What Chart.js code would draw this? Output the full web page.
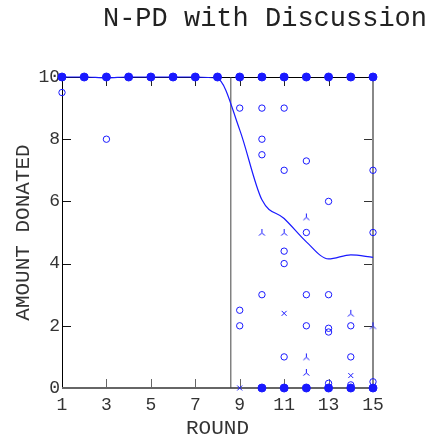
<!DOCTYPE html>
<html>
<head>
<meta charset="utf-8">
<script src="https://cdn.jsdelivr.net/npm/chart.js@4"></script>
<style>
  body { margin: 0; background: #fff; }
  #wrap { width: 436px; height: 441px; }
</style>
</head>
<body>
<div id="wrap"><canvas id="npd"></canvas></div>
<script>
// 데이터
const rounds = [1, 2, 3, 4, 5, 6, 7, 8, 9, 10, 11, 12, 13, 14, 15];
const meanDonation = [10, 10, 9.97, 10, 10, 10, 10, 9.95, 8.3, 6.05, 5.45, 4.7, 4.15, 4.28, 4.2];

// 전액 기부 (채워진 점)
const fullRounds = [1, 2, 3, 4, 5, 6, 7, 8, 9, 10, 11, 12, 13, 14, 15, 10, 11, 12, 13, 14, 15];
const fullAmounts = [10, 10, 10, 10, 10, 10, 10, 10, 10, 10, 10, 10, 10, 10, 10, 0, 0, 0, 0, 0, 0];

// 빈 원
const circlePoints = [
  [1, 9.5], [3, 8], [9, 9], [10, 9], [11, 9], [10, 8], [10, 7.5], [12, 7.3], [11, 7], [15, 7],
  [13, 6], [12, 5], [15, 5], [11, 4.4], [11, 4], [10, 3], [12, 3], [13, 3], [9, 2.5], [9, 2],
  [12, 2], [13, 1.92], [13, 1.8], [14, 2], [11, 1], [14, 1], [13, 0.15], [14, 0.1], [15, 0.2]
];
// 삼각 별 모양
const triPoints = [[10, 5], [11, 5], [12, 5.5], [14, 2.4], [15, 2], [12, 1], [12, 0.5]];
// x 표시
const crossPoints = [[9, 0], [11, 2.4], [14, 0.4]];

const discussionRound = 8.6;
const xTicks = [1, 3, 5, 7, 9, 11, 13, 15];
const yTicks = [0, 2, 4, 6, 8, 10];

const BLUE = 'rgb(25, 25, 255)';
const FONT = "'Liberation Mono', 'DejaVu Sans Mono', monospace";

// 뒤집힌 Y 모양 마커
function makeTriMarker() {
  const c = document.createElement('canvas');
  c.width = 9; c.height = 9;
  const g = c.getContext('2d');
  g.strokeStyle = BLUE;
  g.lineWidth = 1;
  g.beginPath();
  g.moveTo(4.5, 1); g.lineTo(4.5, 5);
  g.moveTo(4.5, 5); g.lineTo(1.5, 7.5);
  g.moveTo(4.5, 5); g.lineTo(7.5, 7.5);
  g.stroke();
  return c;
}

const toXY = arr => arr.map(p => ({ x: p[0], y: p[1] }));

// 테두리와 안쪽 눈금 그리기
const frameTicks = {
  id: 'frameTicks',
  beforeDatasetsDraw(chart) {
    const { ctx, chartArea: a, scales } = chart;
    const x = scales.x, y = scales.y;
    const tl = 9;
    ctx.save();
    ctx.lineWidth = 1;
    // 아래 눈금
    ctx.strokeStyle = '#666';
    xTicks.forEach(v => {
      const px = Math.round(x.getPixelForValue(v)) + 0.5;
      ctx.beginPath(); ctx.moveTo(px, a.bottom); ctx.lineTo(px, a.bottom - tl); ctx.stroke();
    });
    // 위 눈금
    ctx.strokeStyle = '#222';
    xTicks.forEach(v => {
      const px = Math.round(x.getPixelForValue(v)) + 0.5;
      ctx.beginPath(); ctx.moveTo(px, a.top); ctx.lineTo(px, a.top + tl); ctx.stroke();
    });
    // 왼쪽 / 오른쪽 눈금
    yTicks.forEach(v => {
      const py = Math.round(y.getPixelForValue(v)) + 0.5;
      ctx.strokeStyle = '#111';
      ctx.beginPath(); ctx.moveTo(a.left, py); ctx.lineTo(a.left + tl, py); ctx.stroke();
      ctx.strokeStyle = '#333';
      ctx.beginPath(); ctx.moveTo(a.right, py); ctx.lineTo(a.right - tl, py); ctx.stroke();
    });
    // 테두리
    ctx.strokeStyle = '#000';
    ctx.beginPath(); ctx.moveTo(a.left + 0.5, a.top); ctx.lineTo(a.left + 0.5, a.bottom); ctx.stroke();
    ctx.beginPath(); ctx.moveTo(a.left, a.top + 0.5); ctx.lineTo(a.right, a.top + 0.5); ctx.stroke();
    ctx.lineWidth = 2;
    ctx.strokeStyle = '#888';
    ctx.beginPath(); ctx.moveTo(a.right, a.top); ctx.lineTo(a.right, a.bottom + 1); ctx.stroke();
    ctx.strokeStyle = '#666';
    ctx.beginPath(); ctx.moveTo(a.left, a.bottom); ctx.lineTo(a.right, a.bottom); ctx.stroke();
    ctx.restore();
  }
};

const ctx = document.getElementById('npd').getContext('2d');
new Chart(ctx, {
  type: 'scatter',
  data: {
    datasets: [
      {
        label: 'discussion',
        data: [{ x: discussionRound, y: 0 }, { x: discussionRound, y: 10 }],
        showLine: true,
        borderColor: '#444',
        borderWidth: 1,
        pointRadius: 0,
        order: 6
      },
      {
        label: 'mean',
        data: rounds.map((r, i) => ({ x: r, y: meanDonation[i] })),
        showLine: true,
        borderColor: BLUE,
        borderWidth: 1.2,
        cubicInterpolationMode: 'monotone',
        pointRadius: 0,
        clip: false,
        order: 5
      },
      {
        label: 'circles',
        data: toXY(circlePoints),
        pointStyle: 'circle',
        pointRadius: 3.2,
        borderColor: BLUE,
        borderWidth: 1,
        backgroundColor: 'rgba(0,0,0,0)',
        clip: false,
        order: 3
      },
      {
        label: 'tri',
        data: toXY(triPoints),
        pointStyle: makeTriMarker(),
        pointRadius: 4,
        clip: false,
        order: 2
      },
      {
        label: 'cross',
        data: toXY(crossPoints),
        pointStyle: 'crossRot',
        pointRadius: 3.5,
        borderColor: BLUE,
        borderWidth: 1,
        clip: false,
        order: 2
      },
      {
        label: 'full',
        data: fullRounds.map((r, i) => ({ x: r, y: fullAmounts[i] })),
        pointStyle: 'circle',
        pointRadius: 4,
        backgroundColor: BLUE,
        borderColor: BLUE,
        borderWidth: 1,
        clip: false,
        order: 1
      }
    ]
  },
  options: {
    responsive: true,
    maintainAspectRatio: false,
    animation: false,
    events: [],
    layout: { padding: { left: 0, right: 9, top: 0, bottom: 0 } },
    plugins: {
      legend: { display: false },
      tooltip: { enabled: false },
      title: {
        display: true,
        text: 'N-PD with Discussion',
        align: 'end',
        color: '#222',
        font: { family: FONT, size: 27, weight: 'normal' },
        padding: { top: 3, bottom: 41.6 }
      }
    },
    scales: {
      x: {
        type: 'linear',
        min: 1,
        max: 15,
        afterBuildTicks: s => { s.ticks = xTicks.map(v => ({ value: v })); },
        afterFit: s => { s.height = 53; },
        grid: { display: false, drawTicks: false },
        border: { display: false },
        ticks: {
          padding: 6,
          color: '#333',
          maxRotation: 0,
          minRotation: 0,
          autoSkip: false,
          font: { family: FONT, size: 18 }
        },
        title: {
          display: true,
          text: 'ROUND',
          color: '#333',
          font: { family: FONT, size: 21 },
          padding: { top: 0, bottom: 0 }
        }
      },
      y: {
        type: 'linear',
        min: 0,
        max: 10,
        afterBuildTicks: s => { s.ticks = yTicks.map(v => ({ value: v })); },
        afterFit: s => { s.width = 62; },
        grid: { display: false, drawTicks: false },
        border: { display: false },
        ticks: {
          padding: 2,
          color: '#333',
          font: { family: FONT, size: 18 }
        },
        title: {
          display: true,
          text: 'AMOUNT DONATED',
          color: '#333',
          font: { family: FONT, size: 21 },
          padding: { top: 11, bottom: 0 }
        }
      },
      yRight: {
        type: 'linear',
        position: 'right',
        min: 0,
        max: 10,
        afterFit: s => { s.width = 54; },
        grid: { display: false, drawTicks: false },
        border: { display: false },
        ticks: { display: false }
      }
    }
  },
  plugins: [frameTicks]
});
</script>
</body>
</html>
